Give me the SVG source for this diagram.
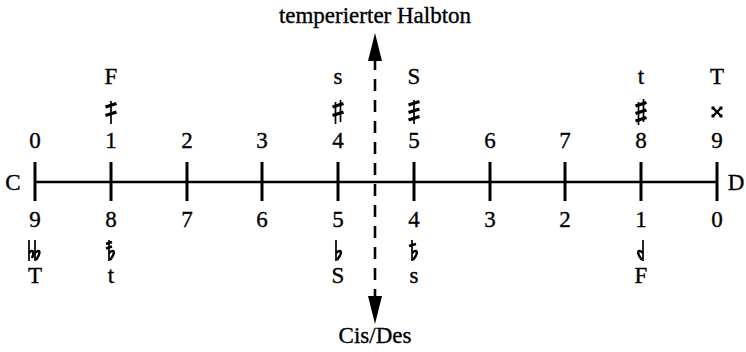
<svg xmlns="http://www.w3.org/2000/svg" width="746" height="352" viewBox="0 0 746 352">
<style>
text{font-family:"Liberation Serif","Times New Roman",serif;font-size:23px;fill:#000;stroke:#000;stroke-width:0.35;text-anchor:middle}
.ax{stroke:#000;stroke-width:2.4;fill:none}
.tk{stroke:#000;stroke-width:3;fill:none}
.acc{stroke:#000;fill:none;stroke-linecap:butt}
.stem{stroke-width:1.7}
.bar{stroke-width:3.4}
.dash{stroke:#000;stroke-width:2.6;stroke-dasharray:12 9;fill:none}
</style>
<defs>
<g id="bars2"><path class="acc bar" d="M-5.5,-5 L5.5,-8.5 M-5.5,3.5 L5.5,0"/></g>
</defs>
<rect width="746" height="352" fill="#fff"/>
<g id="axis">
<path class="ax" d="M35,182 H717"/>
<path class="tk" d="M35,162 V201 M111,162 V201 M187,162 V201 M262,162 V201 M338,162 V201 M414,162 V201 M490,162 V201 M565,162 V201 M641,162 V201 M717,162 V201"/>
<text x="13" y="190">C</text>
<text x="736" y="190">D</text>
</g>
<g id="top-numbers">
<text x="35" y="148">0</text><text x="111" y="148">1</text><text x="187" y="148">2</text><text x="262" y="148">3</text><text x="338" y="148">4</text><text x="414" y="148">5</text><text x="490" y="148">6</text><text x="565" y="148">7</text><text x="641" y="148">8</text><text x="717" y="148">9</text>
</g>
<g id="bottom-numbers">
<text x="35" y="227">9</text><text x="111" y="227">8</text><text x="187" y="227">7</text><text x="262" y="227">6</text><text x="338" y="227">5</text><text x="414" y="227">4</text><text x="490" y="227">3</text><text x="565" y="227">2</text><text x="641" y="227">1</text><text x="717" y="227">0</text>
</g>
<g id="top-letters">
<text x="111" y="84">F</text><text x="338" y="84">s</text><text x="414" y="84">S</text><text x="641" y="84">t</text><text x="717" y="84">T</text>
</g>
<g id="bottom-letters">
<text x="35" y="283">T</text><text x="111" y="283">t</text><text x="338" y="283">S</text><text x="414" y="283">s</text><text x="641" y="283">F</text>
</g>
<g id="top-accidentals">
<g transform="translate(111,112)"><path class="acc stem" d="M0,-11 V12"/><use href="#bars2"/></g>
<g transform="translate(338,112)"><path class="acc stem" d="M-2.5,-10 V12 M2.5,-12 V10"/><use href="#bars2"/></g>
<g transform="translate(414,112)"><path class="acc stem" d="M0,-12 V12"/><path class="acc bar" d="M-5.5,-7 L5.5,-10.5 M-5.5,0.5 L5.5,-3 M-5.5,8 L5.5,4.5"/></g>
<g transform="translate(641,112)"><path class="acc stem" d="M-2.5,-10 V13 M2.5,-13 V10"/><path class="acc bar" d="M-5.5,-6 L5.5,-9.5 M-5.5,1.5 L5.5,-2 M-5.5,9 L5.5,5.5"/></g>
<g transform="translate(717,112)"><path class="acc" stroke-width="2.4" d="M-4,-4 L4,4 M4,-4 L-4,4"/><path d="M-5.5,-5.5h3v3h-3z M2.5,-5.5h3v3h-3z M-5.5,2.5h3v3h-3z M2.5,2.5h3v3h-3z" fill="#000"/></g>
</g>
<g id="bottom-accidentals">
<g transform="translate(35,252)"><path class="acc stem" d="M-6,-12 V9 M0,-12 V9"/><path class="acc" stroke-width="2.5" d="M-6,1 C-3,-3 0,-1 -3,6 M0,1 C4,-3 7,-1 1,8"/></g>
<g transform="translate(111,252)"><path class="acc stem" d="M-2,-12 V9"/><path class="acc" stroke-width="2.5" d="M-2,1 C2,-3 6,-1 -1,8"/><path class="acc" stroke-width="2.4" d="M-5,-8 L1,-10 M-5,-3.5 L1,-5.5"/></g>
<g transform="translate(338,252)"><path class="acc stem" d="M-2,-12 V9"/><path class="acc" stroke-width="2.5" d="M-2,1 C2,-3 6,-1 -1,8"/></g>
<g transform="translate(414,252)"><path class="acc stem" d="M-2,-12 V9"/><path class="acc" stroke-width="2.5" d="M-2,1 C2,-3 6,-1 -1,8"/><path class="acc" stroke-width="2.4" d="M-5,-6 L2,-8"/></g>
<g transform="translate(641,252)"><path class="acc stem" d="M2,-12 V9"/><path class="acc" stroke-width="2.5" d="M2,1 C-2,-3 -6,-1 1,8"/></g>
</g>
<g id="connectors">
<path class="dash" d="M375,58 V300"/>
<path d="M375,33 L382,61 L368,61 Z" fill="#000"/>
<path d="M375,324 L382,296 L368,296 Z" fill="#000"/>
</g>
<g id="labels">
<text x="375" y="23">temperierter Halbton</text>
<text x="375" y="343">Cis/Des</text>
</g>
</svg>
